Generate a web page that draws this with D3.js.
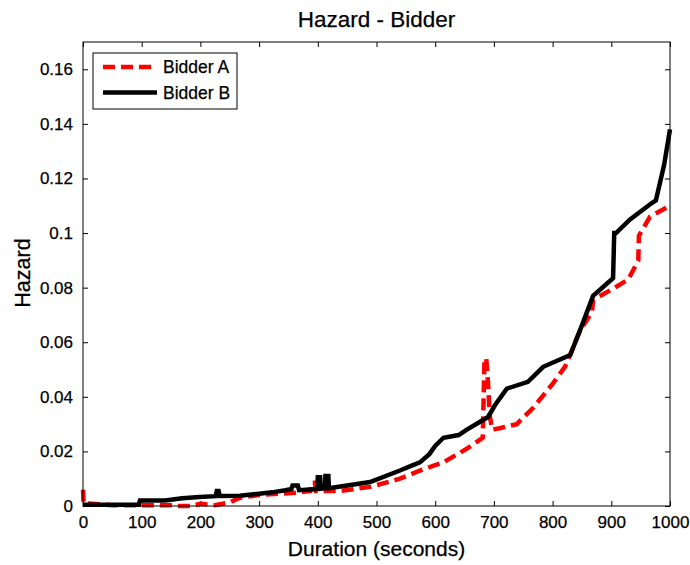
<!DOCTYPE html>
<html>
<head>
<meta charset="utf-8">
<script src="https://cdnjs.cloudflare.com/ajax/libs/d3/7.8.5/d3.min.js"></script>
<style>
  body { margin: 0; background: #fff; }
  text { font-family: "Liberation Sans", Arial, sans-serif; fill: #000; stroke: #000; stroke-width: 0.25px; }
</style>
</head>
<body>
<div id="vis"></div>
<script>
// data: [duration (s), hazard]
const BIDDER_A = [
  [0, 0.006], [1, 0.001], [50, 0.0003], [150, 0.0003], [160, 0], [185, 0],
  [200, 0.0008], [225, 0.0003], [250, 0.0013], [267, 0.003], [300, 0.004],
  [370, 0.005], [387, 0.0055], [389, 0.0085], [395, 0.0085], [397, 0.0055],
  [438, 0.0055], [489, 0.007], [540, 0.010], [574, 0.013], [614, 0.016],
  [654, 0.021], [681, 0.025], [684, 0.054], [687, 0.054], [690, 0.045],
  [693, 0.033], [697, 0.028], [710, 0.0285], [739, 0.030], [767, 0.036],
  [801, 0.045], [821, 0.051], [833, 0.057], [847, 0.0645], [852, 0.066],
  [867, 0.071], [869, 0.0755], [898, 0.079], [929, 0.083], [946, 0.090],
  [947, 0.099], [966, 0.106], [1000, 0.110]
];

const BIDDER_B = [
  [0, 0.0005], [95, 0.0005], [97, 0.002], [140, 0.002], [169, 0.0028],
  [198, 0.0033], [226, 0.0036], [228, 0.0055], [231, 0.0055], [233, 0.0037],
  [267, 0.0038], [300, 0.0045], [322, 0.005], [345, 0.0058], [355, 0.0062],
  [357, 0.0075], [366, 0.0075], [368, 0.0058], [399, 0.0062], [400, 0.0105],
  [404, 0.0105], [405, 0.0063], [412, 0.0065], [413, 0.011], [418, 0.011],
  [419, 0.0065], [450, 0.0075], [489, 0.0088], [540, 0.013], [560, 0.0148],
  [574, 0.016], [590, 0.019], [600, 0.022], [614, 0.025], [640, 0.026],
  [654, 0.028], [690, 0.0326], [702, 0.037], [722, 0.043], [758, 0.0455],
  [784, 0.051], [830, 0.0553], [847, 0.0645], [869, 0.077], [903, 0.0835],
  [905, 0.1], [908, 0.1], [932, 0.105], [969, 0.111], [976, 0.112],
  [990, 0.125], [1000, 0.138]
];

const SERIES_NAMES = ["Bidder A", "Bidder B"];
const X_TICKS = [0, 100, 200, 300, 400, 500, 600, 700, 800, 900, 1000];
const Y_TICKS = [0, 0.02, 0.04, 0.06, 0.08, 0.1, 0.12, 0.14, 0.16];

// frame
const FRAME_HEIGHT = 565;
const FRAME_WIDTH = 690;
const MARGINS = {left: 83, right: 20, top: 42, bottom: 59};
const VIS_WIDTH = FRAME_WIDTH - MARGINS.left - MARGINS.right;
const VIS_HEIGHT = FRAME_HEIGHT - MARGINS.top - MARGINS.bottom;

const FRAME = d3.select("#vis")
  .append("svg")
    .attr("width", FRAME_WIDTH)
    .attr("height", FRAME_HEIGHT);

const X_SCALE = d3.scaleLinear().domain([0, 1000]).range([0, VIS_WIDTH]);
const Y_SCALE = d3.scaleLinear().domain([0, 0.17]).range([VIS_HEIGHT, 0]);

const G = FRAME.append("g")
  .attr("transform", "translate(" + MARGINS.left + "," + MARGINS.top + ")");

// axes, matlab style: ticks inward on all four sides
function styleAxis(sel) {
  sel.select(".domain").remove();
  sel.selectAll(".tick line").attr("stroke", "#000");
  sel.selectAll("text").attr("font-size", "17px").attr("fill", "#000");
}

G.append("g")
  .attr("transform", "translate(0," + VIS_HEIGHT + ")")
  .call(d3.axisBottom(X_SCALE).tickValues(X_TICKS).tickSizeInner(-5).tickSizeOuter(0).tickPadding(10).tickFormat(d3.format("d")))
  .call(styleAxis);

G.append("g")
  .call(d3.axisTop(X_SCALE).tickValues(X_TICKS).tickSizeInner(-5).tickSizeOuter(0).tickFormat(""))
  .call(styleAxis);

G.append("g")
  .call(d3.axisLeft(Y_SCALE).tickValues(Y_TICKS).tickSizeInner(-5).tickSizeOuter(0).tickPadding(10).tickFormat(d => d === 0 ? "0" : String(+d.toFixed(2))))
  .call(styleAxis);

G.append("g")
  .attr("transform", "translate(" + VIS_WIDTH + ",0)")
  .call(d3.axisRight(Y_SCALE).tickValues(Y_TICKS).tickSizeInner(-5).tickSizeOuter(0).tickFormat(""))
  .call(styleAxis);

// lines
const LINE = d3.line()
  .x(d => X_SCALE(d[0]))
  .y(d => Y_SCALE(d[1]));

G.append("path")
  .datum(BIDDER_A)
  .attr("d", LINE)
  .attr("fill", "none")
  .attr("stroke", "#ff0000")
  .attr("stroke-width", 4.5)
  .attr("stroke-dasharray", "12,6");

G.append("path")
  .datum(BIDDER_B)
  .attr("d", LINE)
  .attr("fill", "none")
  .attr("stroke", "#000")
  .attr("stroke-width", 4.5);

// box
G.append("rect")
  .attr("width", VIS_WIDTH)
  .attr("height", VIS_HEIGHT)
  .attr("fill", "none")
  .attr("stroke", "#000")
  .attr("stroke-width", 1);

// legend
const LEGEND = G.append("g").attr("transform", "translate(10,11)");
LEGEND.append("rect")
  .attr("width", 144)
  .attr("height", 56)
  .attr("fill", "#fff")
  .attr("stroke", "#000");

const STYLES = [{color: "#ff0000", dash: "12,6"}, {color: "#000", dash: null}];
SERIES_NAMES.forEach((name, i) => {
  const yy = 14 + i * 25.5;
  LEGEND.append("line")
    .attr("x1", 10).attr("x2", 64)
    .attr("y1", yy).attr("y2", yy)
    .attr("stroke", STYLES[i].color)
    .attr("stroke-width", 4.5)
    .attr("stroke-dasharray", STYLES[i].dash);
  LEGEND.append("text")
    .attr("x", 70).attr("y", yy)
    .attr("dy", "0.35em")
    .attr("font-size", "17.5px")
    .text(name);
});

// title and labels
FRAME.append("text")
  .attr("x", MARGINS.left + VIS_WIDTH / 2)
  .attr("y", 27)
  .attr("text-anchor", "middle")
  .attr("font-size", "22.5px")
  .text("Hazard - Bidder");

FRAME.append("text")
  .attr("x", MARGINS.left + VIS_WIDTH / 2)
  .attr("y", 556)
  .attr("text-anchor", "middle")
  .attr("font-size", "21px")
  .text("Duration (seconds)");

FRAME.append("text")
  .attr("transform", "translate(30,273) rotate(-90)")
  .attr("text-anchor", "middle")
  .attr("font-size", "21.5px")
  .text("Hazard");
</script>
</body>
</html>
